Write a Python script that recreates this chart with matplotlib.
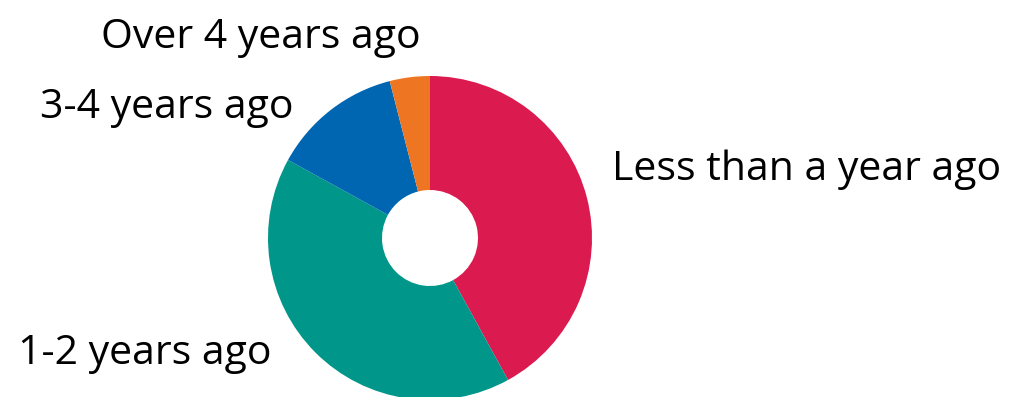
import matplotlib.pyplot as plt

# ── Data ──────────────────────────────────────────────────────────────────────
labels = ["Less than a year ago", "1-2 years ago", "3-4 years ago", "Over 4 years ago"]
shares = [42, 41, 13, 4]
colors = ["#DB1A4F", "#00968A", "#0066B2", "#EE7623"]

W, H = 1014, 397
fig = plt.figure(figsize=(W / 100, H / 100), dpi=100)
fig.patch.set_facecolor("white")

# donut sits at centre (430, 238) px with outer radius 162 px
cx, cy, r = 430, 238, 162
ax = fig.add_axes([(cx - r) / W, (H - cy - r) / H, 2 * r / W, 2 * r / H])
ax.pie(shares, colors=colors, startangle=90, counterclock=False, radius=1,
       wedgeprops=dict(width=1 - 48 / 162, linewidth=0))
ax.set_xlim(-1, 1)
ax.set_ylim(-1, 1)
ax.set_aspect("auto")
ax.axis("off")

# ── Labels (pixel positions, baseline anchored) ──────────────────────────────
font = dict(fontsize=29.5, family=["Open Sans", "DejaVu Sans"], color="black")
label_pos = {
    "Less than a year ago": (612, 180, "left"),
    "1-2 years ago": (272, 364, "right"),
    "3-4 years ago": (293, 118, "right"),
    "Over 4 years ago": (421, 48, "right"),
}
for name in labels:
    x, y, ha = label_pos[name]
    fig.text(x / W, 1 - y / H, name, ha=ha, va="baseline", **font)

fig.savefig("out.png", dpi=100, facecolor="white")
